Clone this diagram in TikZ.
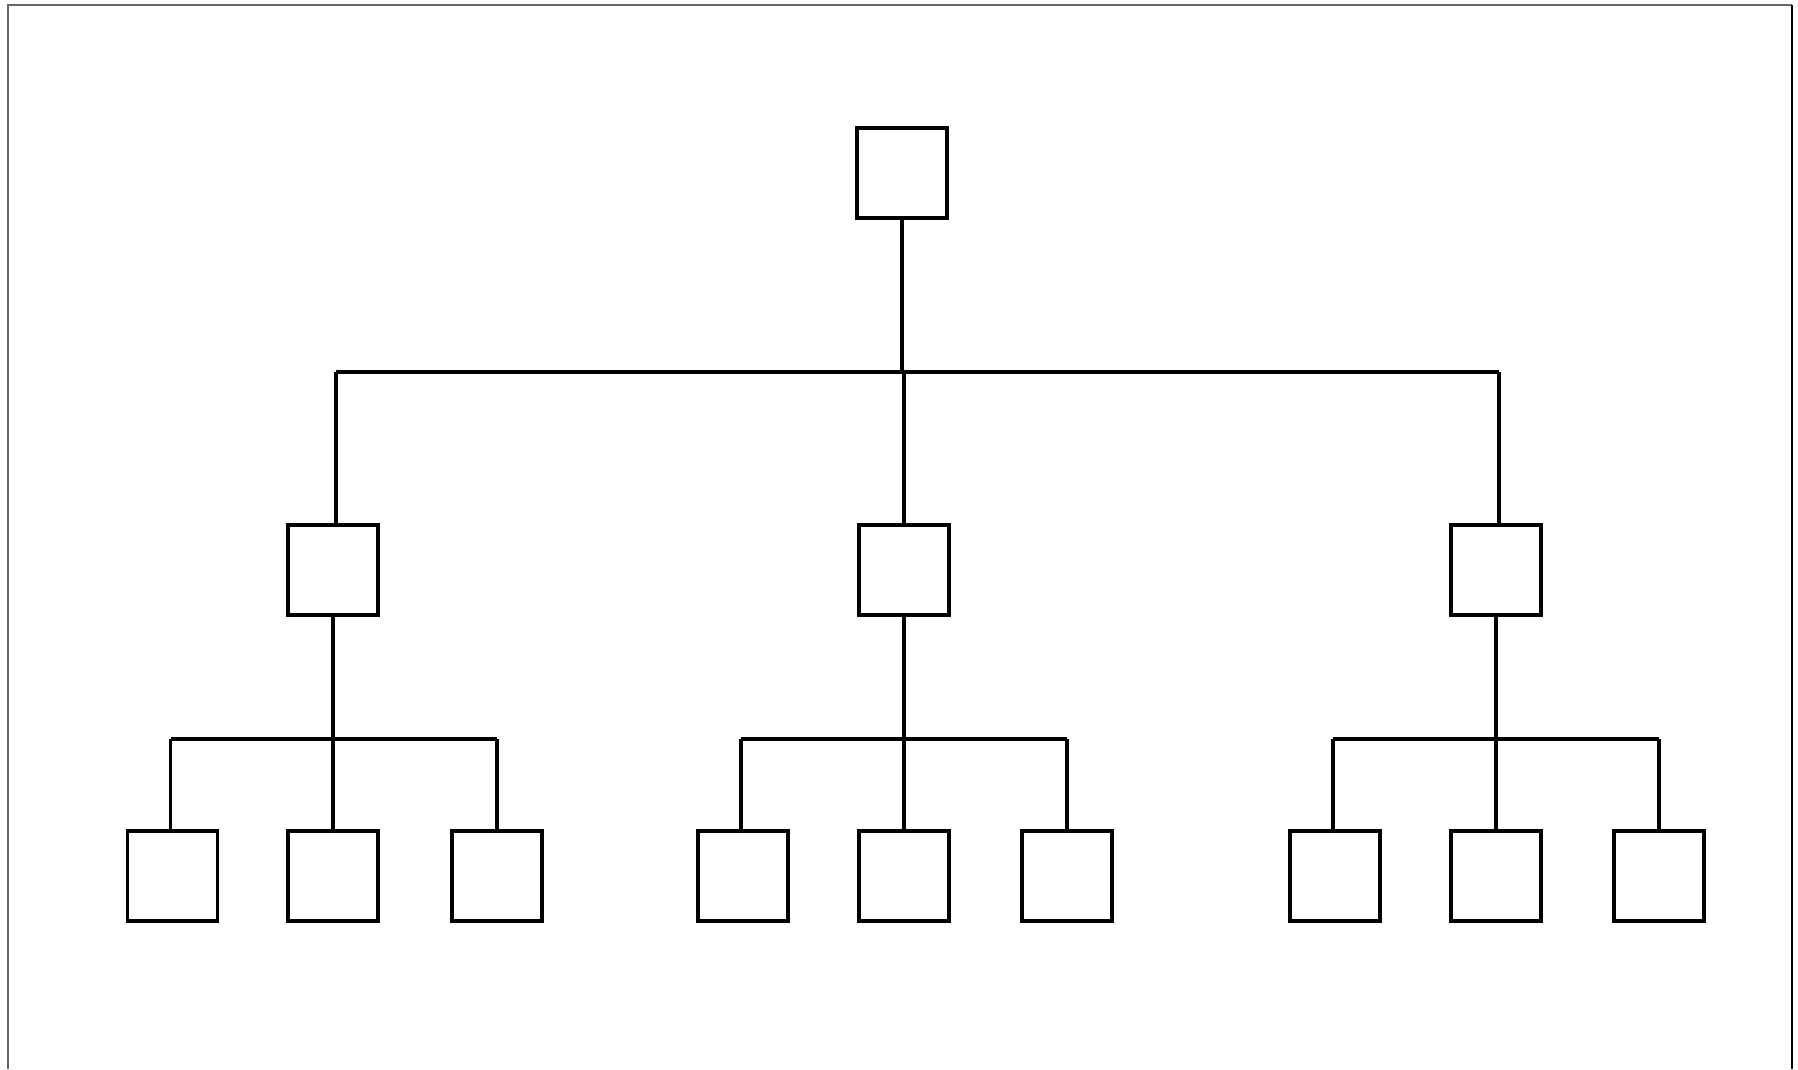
\documentclass[tikz,border=0pt]{standalone}
\begin{document}
\begin{tikzpicture}[x=0.01cm,y=-0.01cm,
  box/.style={draw=black,line width=0.038cm,rectangle,minimum width=0.9cm,minimum height=0.9cm,inner sep=0pt,fill=white},
  wire/.style={draw=black,line width=0.038cm}]
\useasboundingbox (0,0) rectangle (1798,1069);
\fill[white] (0,0) rectangle (1798,1069);
% frame
\draw[gray!80!black,line width=0.02cm] (8,1069) -- (8,5) -- (1792,5);
\draw[black,line width=0.025cm] (1792,5) -- (1792,1069);
% nodes
\node[box] (r) at (902,173) {};
\node[box] (a) at (333,570) {};
\node[box] (b) at (904,570) {};
\node[box] (c) at (1496,570) {};
\node[box] (a1) at (172.5,876) {};
\node[box] (a2) at (333,876) {};
\node[box] (a3) at (497,876) {};
\node[box] (b1) at (743,876) {};
\node[box] (b2) at (904,876) {};
\node[box] (b3) at (1067,876) {};
\node[box] (c1) at (1335,876) {};
\node[box] (c2) at (1496,876) {};
\node[box] (c3) at (1659,876) {};
% junctions
\coordinate (rj) at (902,372);
\coordinate (aj) at (333,739);
\coordinate (bj) at (904,739);
\coordinate (cj) at (1496,739);
% level 1
\draw[wire] (r.south) -- (rj);
\draw[wire] ([xshift=0.03cm]a.north |- rj) -- ([xshift=0.03cm]c.north |- rj);
\draw[wire] ([xshift=0.03cm]a.north) -- ([xshift=0.03cm]a.north |- rj);
\draw[wire] (b.north) -- (b.north |- rj);
\draw[wire] ([xshift=0.03cm]c.north) -- ([xshift=0.03cm]c.north |- rj);
% level 2
\foreach \p in {a,b,c}{
  \draw[wire] (\p.south) -- (\p j);
  \draw[wire] ([xshift=-0.02cm]\p1.north |- \p j) -- (\p3.north |- \p j);
  \draw[wire] ([xshift=-0.02cm]\p1.north) -- ([xshift=-0.02cm]\p1.north |- \p j);
  \foreach \k in {2,3} \draw[wire] (\p\k.north) -- (\p\k.north |- \p j);
}
\end{tikzpicture}
\end{document}
